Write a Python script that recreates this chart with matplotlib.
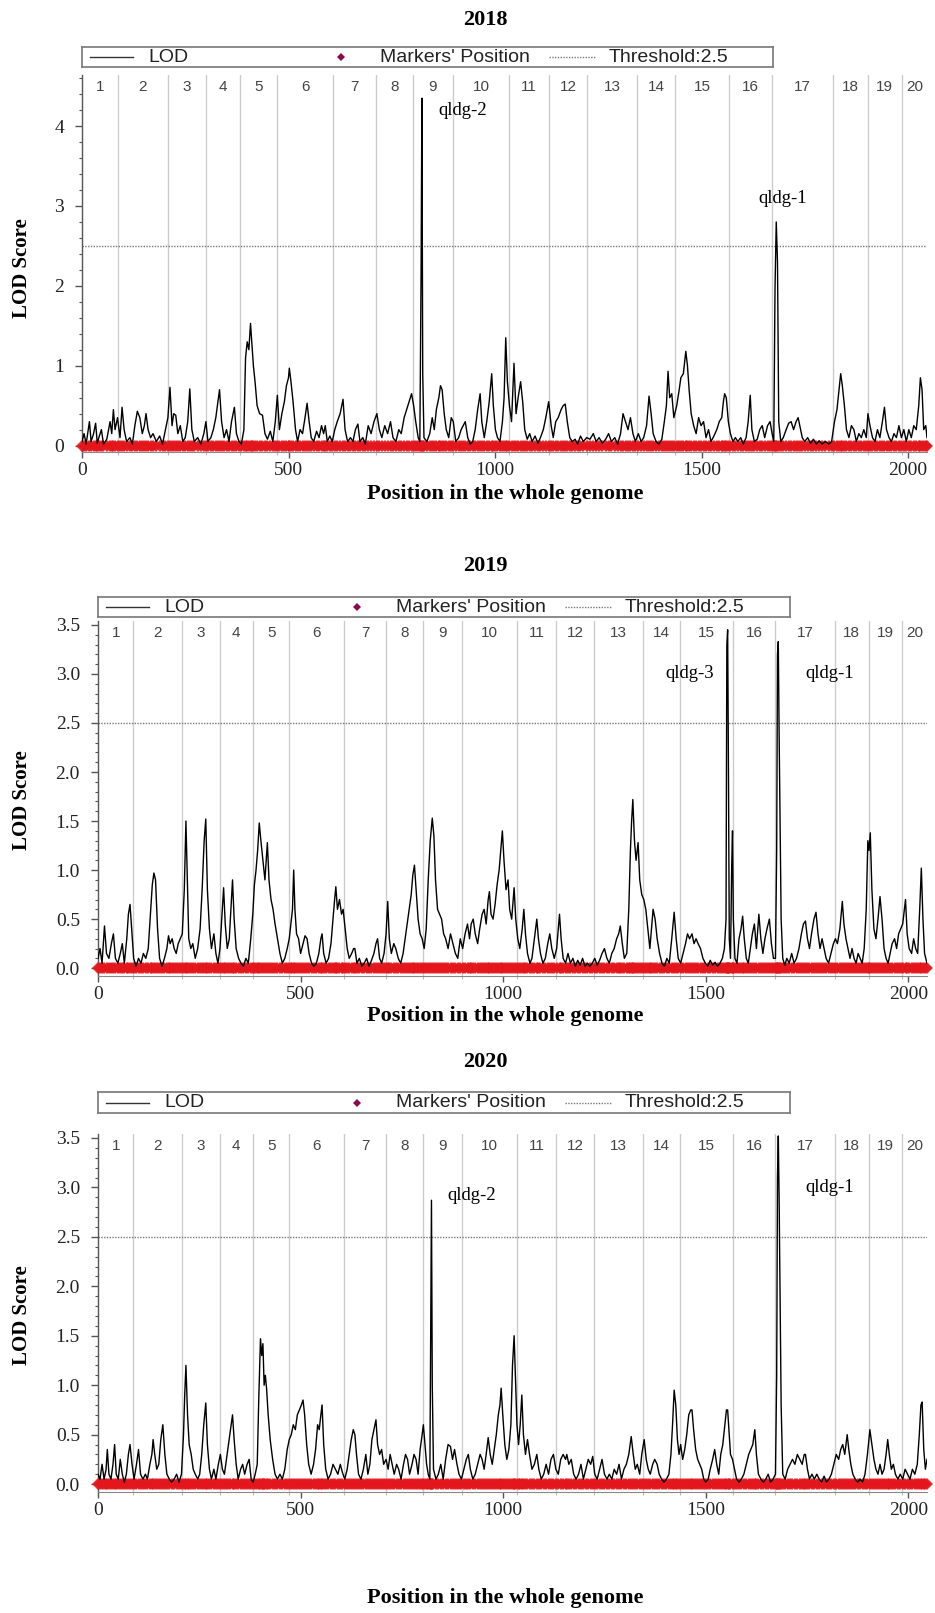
import matplotlib
matplotlib.use("Agg")
import matplotlib.pyplot as plt
from matplotlib.ticker import MultipleLocator, FixedLocator, FormatStrFormatter

# ---------------- data ----------------
years = ["2018", "2019", "2020"]
threshold = 2.5
genome_end = 2046
chrom_bounds = [87, 208, 300, 383, 472, 608, 712, 801, 898, 1034, 1131, 1223,
                1344, 1436, 1567, 1671, 1818, 1903, 1985]
chrom_labels = [str(i) for i in range(1, 21)]

pos_2018 = [0,5,10,18,22,28,33,37,42,47,52,60,68,72,76,80,86,92,97,102,108,116,122,128,134,140,146,151,155,160,166,172,180,188,195,202,208,213,218,222,227,232,238,244,250,256,261,266,272,280,288,295,300,305,312,318,324,329,333,338,344,350,356,362,369,374,380,386,392,396,400,404,408,411,415,419,424,430,437,443,449,456,462,468,473,478,484,490,495,500,502,506,511,517,522,528,534,540,545,550,555,561,568,574,580,585,589,594,600,606,612,618,625,632,637,643,650,656,662,668,673,680,686,693,700,707,714,720,726,733,740,747,753,760,767,773,780,786,792,798,803,808,814,818,821,823,825,828,835,842,848,853,858,864,868,872,877,882,888,894,899,905,912,918,923,928,934,940,946,952,958,964,968,974,980,986,992,996,1001,1006,1012,1018,1022,1026,1030,1035,1040,1046,1051,1056,1062,1067,1072,1078,1084,1090,1097,1104,1110,1117,1123,1130,1136,1141,1147,1153,1160,1165,1170,1175,1181,1187,1194,1200,1207,1214,1222,1230,1238,1245,1252,1260,1268,1275,1282,1290,1297,1304,1310,1316,1322,1328,1334,1340,1347,1354,1360,1367,1373,1378,1383,1390,1397,1404,1410,1415,1419,1423,1428,1433,1440,1446,1450,1456,1462,1466,1470,1475,1481,1487,1493,1499,1505,1511,1517,1523,1530,1537,1543,1549,1553,1556,1560,1565,1570,1576,1582,1588,1595,1601,1608,1613,1618,1622,1628,1635,1641,1647,1653,1660,1666,1671,1675,1678,1681,1684,1687,1692,1698,1705,1711,1717,1723,1729,1734,1738,1744,1750,1757,1764,1771,1778,1785,1792,1800,1808,1815,1822,1828,1833,1837,1841,1846,1851,1857,1863,1869,1875,1881,1887,1893,1899,1903,1908,1914,1920,1926,1932,1938,1943,1948,1954,1960,1966,1972,1978,1984,1990,1996,2002,2008,2014,2020,2026,2030,2034,2038,2043,2046]
lod_2018 = [0.05,0.15,0.02,0.3,0.05,0.15,0.28,0.03,0.12,0.2,0.02,0.08,0.3,0.15,0.45,0.2,0.35,0.1,0.48,0.2,0.05,0.1,0.02,0.25,0.43,0.35,0.15,0.25,0.4,0.2,0.1,0.15,0.05,0.12,0.02,0.2,0.35,0.73,0.25,0.4,0.38,0.15,0.25,0.05,0.1,0.3,0.71,0.2,0.05,0.1,0.02,0.15,0.3,0.05,0.1,0.2,0.35,0.55,0.7,0.3,0.1,0.2,0.05,0.3,0.48,0.15,0.05,0.02,0.2,1.1,1.3,1.2,1.53,1.3,1.0,0.8,0.5,0.4,0.38,0.15,0.08,0.18,0.05,0.3,0.63,0.2,0.4,0.55,0.75,0.85,0.97,0.8,0.55,0.2,0.05,0.2,0.15,0.35,0.53,0.3,0.1,0.05,0.18,0.1,0.25,0.15,0.25,0.05,0.12,0.05,0.2,0.3,0.4,0.58,0.2,0.05,0.1,0.05,0.2,0.27,0.05,0.1,0.02,0.25,0.15,0.3,0.4,0.2,0.1,0.25,0.15,0.3,0.1,0.05,0.2,0.15,0.35,0.45,0.55,0.65,0.5,0.3,0.1,0.05,2.15,4.35,0.9,0.1,0.05,0.15,0.35,0.2,0.45,0.6,0.75,0.7,0.4,0.2,0.1,0.35,0.3,0.05,0.1,0.2,0.25,0.3,0.1,0.02,0.05,0.2,0.45,0.65,0.3,0.1,0.3,0.55,0.9,0.5,0.2,0.1,0.05,0.3,0.6,1.35,0.8,0.5,0.3,1.03,0.4,0.6,0.8,0.55,0.2,0.08,0.15,0.05,0.12,0.03,0.1,0.2,0.35,0.55,0.25,0.1,0.3,0.35,0.45,0.5,0.52,0.3,0.1,0.05,0.08,0.02,0.12,0.05,0.1,0.08,0.15,0.05,0.1,0.03,0.08,0.15,0.05,0.1,0.02,0.15,0.4,0.3,0.2,0.35,0.15,0.05,0.15,0.05,0.1,0.25,0.62,0.4,0.15,0.05,0.02,0.08,0.3,0.5,0.93,0.6,0.65,0.35,0.5,0.7,0.85,0.9,1.18,1.0,0.7,0.4,0.25,0.15,0.35,0.25,0.3,0.1,0.2,0.05,0.12,0.2,0.3,0.35,0.55,0.65,0.6,0.3,0.15,0.05,0.1,0.05,0.1,0.02,0.1,0.3,0.63,0.2,0.05,0.08,0.2,0.25,0.1,0.25,0.3,0.15,0.05,1.97,2.8,2.3,0.3,0.05,0.1,0.2,0.28,0.3,0.2,0.3,0.35,0.25,0.1,0.05,0.1,0.03,0.08,0.02,0.06,0.02,0.05,0.02,0.05,0.3,0.45,0.7,0.9,0.75,0.5,0.2,0.1,0.25,0.2,0.05,0.15,0.1,0.2,0.1,0.4,0.25,0.1,0.05,0.2,0.1,0.3,0.48,0.2,0.1,0.05,0.15,0.1,0.25,0.1,0.2,0.05,0.2,0.1,0.25,0.2,0.5,0.85,0.7,0.2,0.25,0.1]

pos_2019 = [0,5,10,16,21,27,33,38,43,49,55,60,65,71,75,79,83,88,94,100,106,112,118,124,130,134,138,142,147,152,158,164,170,174,178,183,188,193,198,203,208,213,217,220,224,229,234,240,246,252,257,262,266,270,275,280,286,291,296,301,306,310,314,319,324,328,332,336,341,347,353,359,365,371,377,382,386,390,394,398,402,407,412,418,422,427,432,437,443,449,455,461,467,472,476,480,483,486,490,495,500,506,511,516,521,527,533,539,545,550,553,557,563,569,575,580,584,587,591,596,601,605,610,615,620,626,631,634,639,645,651,657,663,669,675,681,686,690,695,700,706,711,715,719,724,730,735,741,747,753,758,763,768,773,777,781,785,790,795,800,805,810,815,820,825,829,833,838,843,848,853,858,864,870,876,882,888,894,900,906,912,917,921,926,931,937,942,948,953,958,963,966,970,975,980,985,990,994,998,1002,1007,1012,1016,1021,1027,1031,1036,1041,1047,1051,1055,1060,1066,1071,1077,1083,1087,1092,1098,1104,1110,1115,1120,1126,1132,1139,1143,1148,1154,1160,1166,1172,1178,1184,1190,1196,1202,1208,1214,1220,1226,1232,1238,1244,1250,1256,1262,1268,1274,1280,1285,1289,1294,1299,1305,1310,1314,1317,1320,1324,1328,1333,1337,1342,1347,1352,1357,1362,1366,1370,1375,1380,1386,1392,1398,1404,1410,1416,1422,1427,1432,1438,1444,1450,1455,1460,1466,1471,1476,1481,1487,1493,1499,1505,1511,1517,1523,1529,1535,1541,1546,1550,1552,1554,1556,1558,1561,1564,1566,1568,1572,1577,1582,1587,1591,1595,1600,1605,1610,1615,1620,1625,1631,1636,1641,1646,1651,1657,1662,1667,1672,1675,1677,1679,1681,1683,1686,1690,1695,1700,1706,1712,1718,1724,1730,1736,1741,1746,1751,1756,1761,1767,1772,1777,1782,1787,1792,1797,1803,1809,1815,1820,1825,1831,1837,1841,1846,1851,1856,1861,1866,1871,1876,1881,1886,1891,1896,1900,1903,1906,1910,1915,1920,1925,1930,1935,1940,1945,1950,1955,1960,1966,1971,1976,1981,1986,1993,1997,2002,2008,2013,2018,2023,2028,2032,2036,2040,2046]
lod_2019 = [0.1,0.2,0.05,0.43,0.15,0.1,0.25,0.35,0.1,0.05,0.15,0.25,0.05,0.3,0.55,0.65,0.4,0.1,0.02,0.1,0.05,0.15,0.1,0.2,0.6,0.85,0.97,0.9,0.4,0.1,0.02,0.1,0.2,0.33,0.25,0.3,0.2,0.15,0.25,0.3,0.35,0.8,1.5,1.0,0.3,0.2,0.25,0.1,0.2,0.4,0.8,1.3,1.52,0.8,0.4,0.2,0.35,0.15,0.05,0.2,0.55,0.82,0.45,0.2,0.3,0.6,0.9,0.5,0.2,0.1,0.05,0.02,0.1,0.05,0.3,0.55,0.85,1.0,1.2,1.48,1.3,1.1,0.9,1.28,0.9,0.7,0.6,0.45,0.3,0.15,0.05,0.1,0.2,0.3,0.45,0.6,1.0,0.6,0.35,0.3,0.15,0.25,0.33,0.3,0.15,0.05,0.02,0.05,0.15,0.3,0.35,0.15,0.05,0.1,0.25,0.5,0.7,0.83,0.6,0.7,0.55,0.6,0.4,0.2,0.1,0.15,0.2,0.2,0.05,0.1,0.02,0.05,0.1,0.02,0.08,0.15,0.25,0.3,0.1,0.05,0.15,0.35,0.68,0.3,0.15,0.25,0.2,0.1,0.05,0.15,0.3,0.45,0.6,0.75,0.95,1.05,0.8,0.5,0.35,0.3,0.2,0.4,0.9,1.3,1.53,1.35,0.9,0.6,0.55,0.5,0.35,0.3,0.2,0.35,0.25,0.15,0.1,0.3,0.2,0.35,0.45,0.3,0.45,0.5,0.35,0.25,0.4,0.55,0.6,0.45,0.7,0.78,0.55,0.5,0.65,0.85,1.0,1.2,1.4,1.1,0.8,0.9,0.6,0.5,0.82,0.5,0.3,0.2,0.4,0.6,0.35,0.15,0.05,0.1,0.3,0.5,0.3,0.15,0.05,0.1,0.25,0.35,0.2,0.1,0.2,0.55,0.3,0.1,0.05,0.15,0.05,0.1,0.02,0.08,0.03,0.1,0.02,0.05,0.02,0.05,0.1,0.03,0.08,0.15,0.2,0.1,0.05,0.15,0.2,0.3,0.35,0.43,0.25,0.1,0.15,0.6,1.2,1.5,1.72,1.3,1.1,1.28,0.9,0.75,0.7,0.6,0.4,0.2,0.4,0.6,0.5,0.3,0.15,0.05,0.02,0.1,0.05,0.3,0.57,0.3,0.1,0.05,0.15,0.25,0.35,0.3,0.35,0.25,0.3,0.25,0.2,0.1,0.05,0.02,0.08,0.03,0.06,0.02,0.05,0.1,0.2,0.5,3.3,3.45,2.0,0.3,0.1,1.05,1.4,0.5,0.1,0.05,0.3,0.4,0.53,0.3,0.1,0.05,0.2,0.35,0.45,0.2,0.55,0.3,0.15,0.3,0.4,0.5,0.25,0.1,0.1,1.2,3.2,3.33,2.4,1.6,0.5,0.1,0.03,0.1,0.05,0.15,0.05,0.1,0.2,0.35,0.45,0.48,0.3,0.2,0.35,0.5,0.57,0.35,0.2,0.3,0.2,0.1,0.05,0.15,0.25,0.3,0.25,0.4,0.68,0.45,0.3,0.2,0.1,0.2,0.1,0.05,0.15,0.1,0.05,0.2,0.6,1.3,1.2,1.38,0.8,0.4,0.3,0.5,0.73,0.5,0.2,0.1,0.05,0.15,0.25,0.3,0.2,0.35,0.4,0.45,0.7,0.35,0.2,0.15,0.3,0.2,0.15,0.6,1.02,0.5,0.15,0.05]

pos_2020 = [0,5,10,15,20,23,27,32,37,41,45,50,55,60,65,70,75,79,84,89,95,100,105,111,117,122,128,133,136,140,145,150,155,160,165,170,176,182,188,194,200,206,211,214,217,221,225,230,235,240,246,251,256,261,266,270,275,280,286,291,297,302,307,312,317,322,327,332,336,341,346,352,357,362,368,373,378,383,388,393,397,401,404,407,410,413,416,420,425,431,437,443,449,455,461,467,472,477,482,487,492,497,502,506,510,515,520,526,532,537,542,546,550,553,557,562,568,574,580,586,592,598,603,609,615,620,625,630,634,638,643,649,655,661,666,671,676,681,686,690,695,700,705,711,716,721,726,731,737,742,748,754,759,764,769,775,780,785,790,795,800,803,807,811,815,819,821,823,825,828,834,840,846,852,858,864,870,875,880,886,891,897,903,909,914,919,925,931,937,943,948,953,958,963,968,973,978,983,988,992,995,999,1004,1009,1014,1019,1023,1027,1030,1034,1038,1042,1046,1050,1055,1060,1065,1071,1077,1083,1088,1094,1100,1106,1112,1118,1124,1130,1136,1142,1148,1154,1157,1162,1168,1174,1180,1186,1192,1198,1204,1210,1216,1221,1226,1232,1238,1244,1250,1256,1262,1268,1274,1280,1286,1292,1298,1304,1310,1316,1321,1326,1331,1337,1342,1348,1353,1358,1363,1369,1374,1380,1385,1391,1397,1403,1409,1414,1418,1422,1426,1430,1434,1438,1443,1448,1453,1458,1463,1466,1470,1475,1480,1485,1490,1495,1500,1506,1511,1517,1522,1527,1532,1537,1542,1547,1551,1554,1557,1561,1566,1571,1576,1582,1588,1594,1600,1606,1611,1616,1621,1625,1630,1636,1642,1648,1654,1660,1666,1672,1675,1677,1679,1681,1683,1686,1690,1696,1702,1708,1714,1720,1726,1732,1738,1743,1746,1751,1756,1762,1768,1774,1780,1786,1792,1798,1804,1810,1816,1822,1828,1833,1838,1843,1849,1853,1858,1863,1869,1875,1881,1887,1893,1899,1905,1910,1915,1920,1925,1930,1935,1940,1945,1949,1953,1958,1963,1968,1974,1980,1986,1992,1998,2004,2010,2016,2022,2027,2031,2034,2038,2042,2046]
lod_2020 = [0.1,0.05,0.2,0.05,0.15,0.35,0.1,0.05,0.2,0.4,0.1,0.05,0.25,0.1,0.02,0.1,0.3,0.4,0.2,0.05,0.2,0.35,0.1,0.05,0.1,0.05,0.2,0.3,0.45,0.3,0.15,0.2,0.45,0.6,0.3,0.1,0.05,0.02,0.05,0.1,0.02,0.1,0.5,0.9,1.2,0.7,0.4,0.3,0.15,0.1,0.05,0.1,0.3,0.6,0.82,0.4,0.15,0.05,0.15,0.05,0.2,0.3,0.15,0.1,0.25,0.4,0.55,0.7,0.45,0.2,0.05,0.15,0.2,0.1,0.2,0.25,0.05,0.02,0.1,0.2,0.9,1.47,1.3,1.42,1.0,1.1,0.97,0.7,0.45,0.25,0.1,0.05,0.1,0.05,0.15,0.35,0.45,0.5,0.6,0.55,0.7,0.75,0.8,0.85,0.7,0.4,0.2,0.1,0.2,0.35,0.6,0.55,0.7,0.8,0.4,0.15,0.05,0.1,0.2,0.15,0.1,0.2,0.12,0.05,0.15,0.3,0.45,0.55,0.5,0.3,0.1,0.05,0.15,0.3,0.1,0.2,0.45,0.55,0.65,0.4,0.3,0.35,0.2,0.25,0.15,0.3,0.2,0.1,0.2,0.15,0.05,0.2,0.3,0.25,0.1,0.2,0.3,0.25,0.1,0.35,0.5,0.6,0.4,0.2,0.1,0.05,1.45,2.87,1.0,0.15,0.05,0.1,0.2,0.05,0.25,0.4,0.38,0.25,0.35,0.2,0.1,0.05,0.15,0.25,0.3,0.15,0.05,0.1,0.2,0.3,0.25,0.15,0.3,0.47,0.3,0.2,0.35,0.5,0.7,0.8,0.97,0.7,0.4,0.25,0.35,0.6,1.2,1.5,1.1,0.6,0.4,0.6,0.9,0.5,0.3,0.45,0.3,0.15,0.2,0.3,0.15,0.05,0.1,0.2,0.1,0.25,0.3,0.15,0.1,0.25,0.3,0.25,0.3,0.2,0.25,0.1,0.05,0.1,0.2,0.05,0.15,0.25,0.2,0.28,0.1,0.05,0.15,0.25,0.1,0.05,0.1,0.05,0.15,0.1,0.2,0.05,0.15,0.2,0.3,0.48,0.3,0.15,0.2,0.1,0.3,0.45,0.25,0.15,0.1,0.2,0.25,0.2,0.1,0.05,0.02,0.05,0.1,0.3,0.6,0.95,0.8,0.45,0.3,0.4,0.25,0.35,0.5,0.7,0.75,0.75,0.55,0.35,0.25,0.2,0.15,0.05,0.02,0.05,0.15,0.25,0.35,0.2,0.1,0.3,0.4,0.6,0.75,0.75,0.55,0.3,0.25,0.15,0.05,0.02,0.05,0.1,0.2,0.3,0.35,0.4,0.55,0.3,0.1,0.05,0.02,0.05,0.1,0.02,0.05,0.1,1.1,3.1,3.52,2.9,2.1,0.8,0.1,0.05,0.15,0.2,0.25,0.2,0.3,0.25,0.2,0.3,0.3,0.15,0.05,0.1,0.05,0.1,0.05,0.02,0.08,0.02,0.05,0.1,0.2,0.3,0.25,0.35,0.4,0.3,0.5,0.35,0.2,0.1,0.05,0.02,0.05,0.02,0.1,0.3,0.55,0.4,0.25,0.15,0.1,0.2,0.1,0.15,0.3,0.45,0.3,0.15,0.2,0.1,0.05,0.1,0.05,0.15,0.1,0.05,0.15,0.1,0.2,0.5,0.8,0.83,0.35,0.15,0.25]

qtl_2018 = [("qldg-2", 862, 4.2), ("qldg-1", 1637, 3.1)]
qtl_2019 = [("qldg-3", 1400, 3.0), ("qldg-1", 1746, 3.0)]
qtl_2020 = [("qldg-2", 862, 2.92), ("qldg-1", 1746, 3.0)]

# ---------------- layout (pixels) ----------------
W, H = 935, 1613
SERIF = ["Liberation Serif", "DejaVu Serif"]
SANS = ["Liberation Sans", "DejaVu Sans"]

fig = plt.figure(figsize=(W / 100, H / 100), dpi=100)
fig.patch.set_facecolor("white")


def fx(px):
    return px / W


def fy(py):
    return 1 - py / H


panels = [
    dict(year=years[0], pos=pos_2018, lod=lod_2018, qtl=qtl_2018,
         left=82, top=75, bottom=452, ylim=(-0.08, 4.64),
         major=1, minor=0.2, fmt="%d",
         title_y=20, legend=(82, 47, 773, 67), xlabel_y=494, ylabel_y=268),
    dict(year=years[1], pos=pos_2019, lod=lod_2019, qtl=qtl_2019,
         left=98, top=621, bottom=976, ylim=(-0.08, 3.54),
         major=0.5, minor=0.1, fmt="%.1f",
         title_y=566, legend=(98, 597, 790, 617), xlabel_y=1016, ylabel_y=800),
    dict(year=years[2], pos=pos_2020, lod=lod_2020, qtl=qtl_2020,
         left=98, top=1134, bottom=1492, ylim=(-0.08, 3.54),
         major=0.5, minor=0.1, fmt="%.1f",
         title_y=1062, legend=(98, 1092, 790, 1113), xlabel_y=1598, ylabel_y=1315),
]
RIGHT = 927

for p in panels:
    ax = fig.add_axes([fx(p["left"]), fy(p["bottom"]),
                       fx(RIGHT - p["left"]), (p["bottom"] - p["top"]) / H])
    ax.set_xlim(0, genome_end)
    ax.set_ylim(*p["ylim"])
    for s in ["top", "right"]:
        ax.spines[s].set_visible(False)
    ax.spines["left"].set_color("#555555")
    ax.spines["bottom"].set_color("#888888")
    ax.spines["left"].set_linewidth(1.0)
    ax.spines["bottom"].set_linewidth(0.8)

    # chromosome boundaries
    for b in chrom_bounds:
        ax.axvline(b, color="#cccccc", lw=1.0, zorder=1)
    edges = [0] + chrom_bounds + [genome_end]
    height_px = p["bottom"] - p["top"]
    for i, lab in enumerate(chrom_labels):
        xm = (edges[i] + edges[i + 1]) / 2
        ax.text(xm, 1 - 12 / height_px, lab, transform=ax.get_xaxis_transform(),
                ha="center", va="center", fontsize=11, color="#444444",
                family=SANS)

    # threshold
    ax.axhline(threshold, color="#777777", lw=1.0, ls=(0, (1, 1)), zorder=2)

    # markers (at the scan positions)
    ax.plot(p["pos"], [0] * len(p["pos"]), ls="none", marker="D", ms=6.5,
            mew=0, color="#e3161c", alpha=0.9, zorder=3, clip_on=False)
    # LOD curve
    ax.plot(p["pos"], p["lod"], color="black", lw=1.0, zorder=4)

    for name, xq, yq in p["qtl"]:
        ax.text(xq, yq, name, ha="left", va="center", fontsize=13.5,
                family=SERIF, color="black", zorder=5)

    # ticks
    ax.yaxis.set_major_locator(MultipleLocator(p["major"]))
    ax.yaxis.set_minor_locator(MultipleLocator(p["minor"]))
    ax.yaxis.set_major_formatter(FormatStrFormatter(p["fmt"]))
    ax.xaxis.set_major_locator(FixedLocator([0, 500, 1000, 1500, 2000]))
    ax.xaxis.set_minor_locator(FixedLocator(chrom_bounds))
    ax.tick_params(axis="y", which="major", direction="out", length=5,
                   width=1.0, color="#555555", pad=8, labelsize=14)
    ax.tick_params(axis="y", which="minor", direction="out", length=2.5,
                   width=0.8, color="#555555")
    ax.tick_params(axis="x", which="major", direction="out", length=4,
                   width=1.0, color="#555555", pad=3, labelsize=14)
    ax.tick_params(axis="x", which="minor", direction="out", length=2.5,
                   width=0.8, color="#bbbbbb")
    for lbl in ax.get_xticklabels() + ax.get_yticklabels():
        lbl.set_family(SERIF)
        lbl.set_color("#222222")

    # title, axis labels
    fig.text(fx(485), fy(p["title_y"]), p["year"], ha="center", va="center",
             fontsize=16, fontweight="bold", family=SERIF)
    fig.text(fx(505), fy(p["xlabel_y"]), "Position in the whole genome",
             ha="center", va="center", fontsize=16, fontweight="bold",
             family=SERIF)
    fig.text(fx(22), fy(p["ylabel_y"]), "LOD Score", ha="center",
             va="center", rotation=90, fontsize=15, fontweight="bold",
             family=SERIF)

    # legend box
    x0, y0, x1, y1 = p["legend"]
    lax = fig.add_axes([fx(x0), fy(y1), fx(x1 - x0), (y1 - y0) / H])
    lax.set_xlim(0, x1 - x0)
    lax.set_ylim(0, 1)
    lax.set_xticks([])
    lax.set_yticks([])
    for s in lax.spines.values():
        s.set_color("#777777")
        s.set_linewidth(1.2)
    lax.plot([8, 51], [0.5, 0.5], color="#333333", lw=1.0)
    lax.text(66, 0.5, "LOD", ha="left", va="center", fontsize=14,
             family=SANS, color="#222222")
    lax.plot([259], [0.5], marker="D", ms=4.5, color="#8b0a50", mew=0)
    lax.text(298, 0.5, "Markers' Position", ha="left", va="center",
             fontsize=14, family=SANS, color="#222222")
    lax.plot([467, 514], [0.5, 0.5], color="#777777", lw=1.0, ls=(0, (1, 1)))
    lax.text(527, 0.5, "Threshold:2.5", ha="left", va="center", fontsize=14,
             family=SANS, color="#222222")

fig.savefig("out.png", dpi=100, facecolor="white")
